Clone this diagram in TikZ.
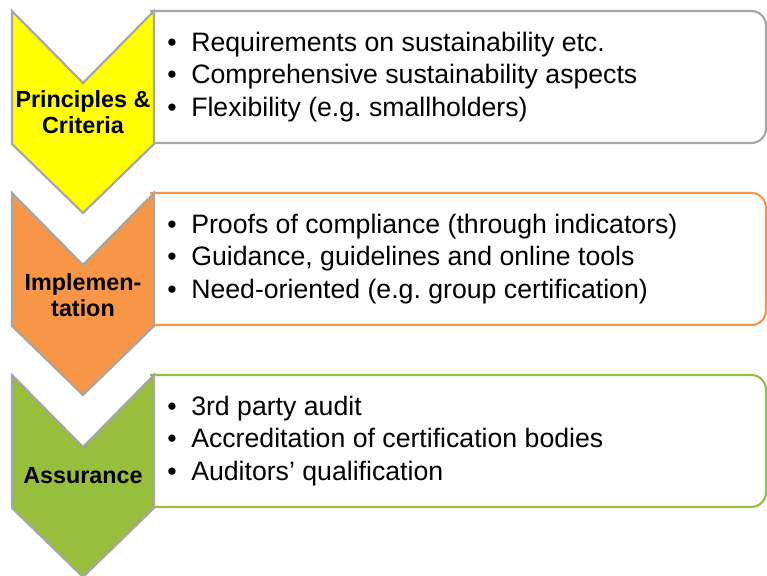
\documentclass[tikz,border=0pt]{standalone}
\usepackage{fontspec}
\setmainfont{Liberation Sans}
\usepackage{xcolor}
\usetikzlibrary{positioning}
\definecolor{chevyellow}{HTML}{FFFF00}
\definecolor{chevorange}{HTML}{F79646}
\definecolor{chevgreen}{HTML}{97BF3D}
\definecolor{chevgray}{HTML}{A6A6A6}
\newcommand{\bul}{\textbullet\hspace{11pt}}
\frenchspacing

\begin{document}
\begin{tikzpicture}[x=0.75pt,y=-0.75pt,
    chevron/.style={draw=chevgray,line width=1.6pt,line join=miter},
    infobox/.style={line width=1.6pt,rounded corners=11pt},
    stagelabel/.style={font=\fontsize{17.5}{20}\selectfont\bfseries,align=center,inner sep=0pt},
    itemlist/.style={font=\fontsize{20}{24.5}\selectfont,align=left,anchor=west,inner sep=0pt}]
                    \useasboundingbox (0,0) rectangle (767,575);
                    % boxes on the right
                    \draw[infobox,draw=chevgray] (150,11) -- (766,11) -- (766,143) -- (150,143);
                    \draw[infobox,draw=chevorange] (150,193) -- (766,193) -- (766,325) -- (150,325);
                    \draw[infobox,draw=chevgreen] (150,375) -- (766,375) -- (766,507) -- (150,507);
                    % chevrons
                    \filldraw[chevron,fill=chevyellow] (12,11) -- (83,83) -- (154,11) -- (154,144) -- (83,213) -- (12,144) -- cycle;
                    \filldraw[chevron,fill=chevorange] (12,193) -- (83,265) -- (154,193) -- (154,326) -- (83,395) -- (12,326) -- cycle;
                    \filldraw[chevron,fill=chevgreen] (12,375) -- (83,447) -- (154,375) -- (154,508) -- (83,577) -- (12,508) -- cycle;
                    % labels
                    \node[stagelabel] (principles) at (83,112) {Principles \&\\Criteria};
                    \node[stagelabel] (implementation) at (83,295) {Implemen-\\tation};
                    \node[stagelabel] (assurance) at (83,476) {Assurance};
                    % items
                    \node[itemlist] (principlesitems) at (167,77) {\bul Requirements on sustainability etc.\\\bul Comprehensive sustainability aspects\\\bul Flexibility (e.g. smallholders)};
                    \node[itemlist] (implementationitems) at (167,259) {\bul Proofs of compliance (through indicators)\\\bul Guidance, guidelines and online tools\\\bul Need-oriented (e.g. group certification)};
                    \node[itemlist] (assuranceitems) at (167,441) {\bul 3rd party audit\\\bul Accreditation of certification bodies\\\bul Auditors’ qualification};
                \end{tikzpicture}
\end{document}
